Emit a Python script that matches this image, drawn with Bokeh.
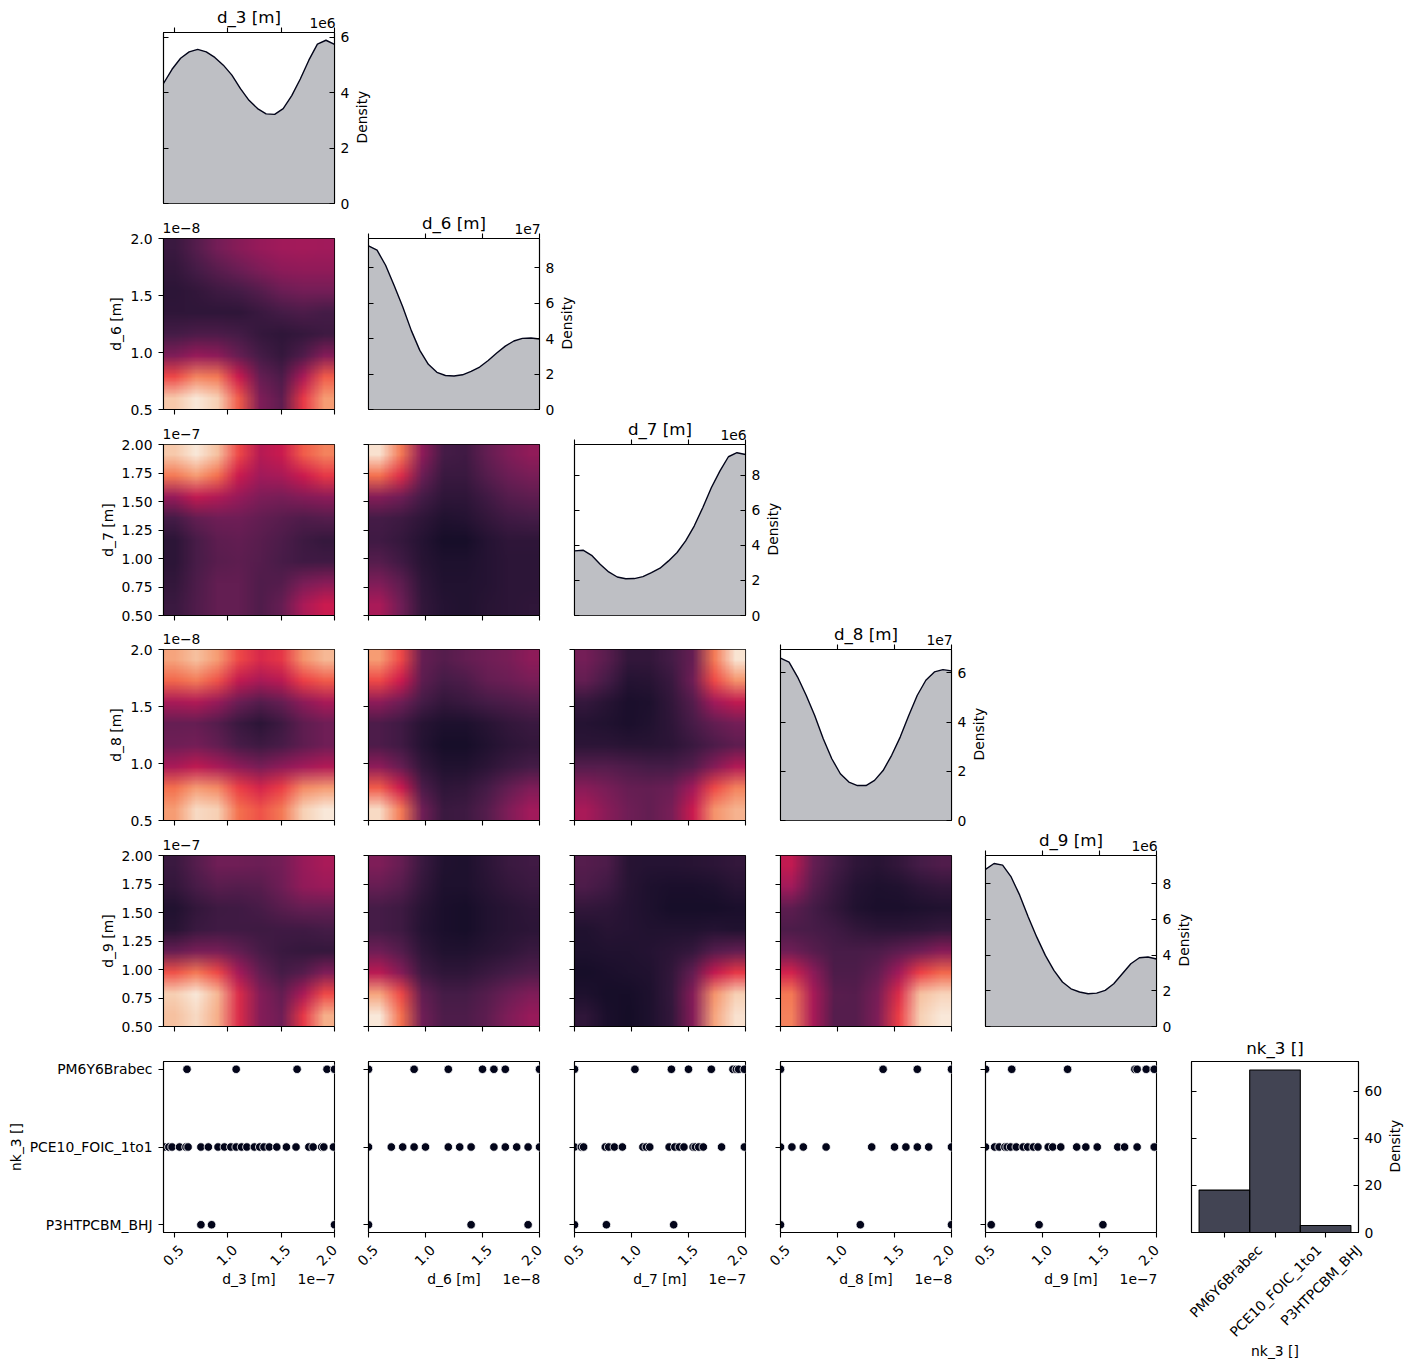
from math import pi

import numpy as np
from bokeh.embed import file_html
from bokeh.layouts import column, row
from bokeh.models import CustomJS, FixedTicker, LinearAxis, LinearColorMapper, PrintfTickFormatter, Range1d
from bokeh.plotting import figure
from bokeh.resources import INLINE

names = ["d_3 [m]", "d_6 [m]", "d_7 [m]", "d_8 [m]", "d_9 [m]"]
powers = ["1e\u22127", "1e\u22128", "1e\u22127", "1e\u22128", "1e\u22127"]
density_powers = ["1e6", "1e7", "1e6", "1e7", "1e6"]
categories = ["P3HTPCBM_BHJ", "PCE10_FOIC_1to1", "PM6Y6Brabec"]
hist_order = ["PM6Y6Brabec", "PCE10_FOIC_1to1", "P3HTPCBM_BHJ"]
hist_density = [18, 69, 3]

# density curves, read every 5% of the axis width
curve_pos = [0, .05, .1, .15, .2, .25, .3, .35, .4, .45, .5, .55, .6, .65, .7, .75, .8, .85, .9, .95, 1]
curve_d3 = [4.34, 4.85, 5.25, 5.48, 5.57, 5.48, 5.28, 5.0, 4.64, 4.15, 3.73, 3.43, 3.24, 3.22, 3.43, 3.9, 4.5, 5.18, 5.76, 5.9, 5.75]
curve_d6 = [9.25, 9.0, 8.15, 7.0, 5.8, 4.47, 3.34, 2.55, 2.1, 1.92, 1.89, 1.96, 2.15, 2.4, 2.77, 3.19, 3.58, 3.87, 4.02, 4.04, 3.98]
curve_d7 = [3.69, 3.73, 3.44, 2.93, 2.49, 2.2, 2.1, 2.11, 2.22, 2.45, 2.7, 3.12, 3.6, 4.26, 5.11, 6.16, 7.3, 8.25, 9.07, 9.3, 9.2]
curve_d8 = [6.6, 6.44, 5.83, 5.09, 4.27, 3.32, 2.51, 1.9, 1.56, 1.42, 1.42, 1.63, 2.03, 2.65, 3.39, 4.27, 5.09, 5.7, 6.04, 6.13, 6.08]
curve_d9 = [8.79, 9.12, 9.03, 8.37, 7.35, 6.13, 5.0, 3.98, 3.14, 2.49, 2.11, 1.93, 1.83, 1.87, 2.02, 2.39, 2.95, 3.51, 3.85, 3.89, 3.78]
curves = [curve_d3, curve_d6, curve_d7, curve_d8, curve_d9]
density_top = [6.18, 9.66, 9.77, 6.95, 9.57]
density_ticks = [[0, 2, 4, 6], [0, 2, 4, 6, 8], [0, 2, 4, 6, 8], [0, 2, 4, 6], [0, 2, 4, 6, 8]]

# sample positions in the bottom row, one list per category
d3_pm6 = [.62, 1.08, 1.65, 1.93, 2.0]
d3_pce = [.405, .45, .48, .55, .61, .63, .75, .82, .91, .97, 1.03, 1.08, 1.13, 1.18, 1.25, 1.30, 1.34, 1.39, 1.46, 1.55, 1.64, 1.76, 1.80, 1.88, 1.90, 1.99]
d3_p3h = [.75, .85, 2.0]
d6_pm6 = [.5, .9, 1.2, 1.5, 1.6, 1.7, 2.0]
d6_pce = [.5, .7, .8, .9, 1.0, 1.2, 1.3, 1.4, 1.6, 1.7, 1.8, 1.9, 2.0]
d6_p3h = [.5, 1.4, 1.9]
d7_pm6 = [.5, 1.03, 1.35, 1.5, 1.7, 1.89, 1.92, 1.94, 1.99]
d7_pce = [.5, .56, .58, .77, .8, .85, .92, 1.1, 1.13, 1.16, 1.33, 1.38, 1.42, 1.46, 1.54, 1.56, 1.59, 1.63, 1.79, 1.99]
d7_p3h = [.5, .78, 1.37]
d8_pm6 = [.5, 1.4, 1.7, 2.0]
d8_pce = [.5, .6, .7, .9, 1.3, 1.5, 1.6, 1.7, 1.8, 2.0]
d8_p3h = [.5, 1.2, 2.0]
d9_pm6 = [.5, .73, 1.22, 1.81, 1.83, 1.91, 1.98]
d9_pce = [.5, .58, .62, .67, .69, .72, .77, .83, .87, .92, .96, 1.05, 1.09, 1.16, 1.3, 1.38, 1.48, 1.66, 1.72, 1.83, 1.98]
d9_p3h = [.55, .97, 1.53]
samples = [
    [d3_p3h, d3_pce, d3_pm6],
    [d6_p3h, d6_pce, d6_pm6],
    [d7_p3h, d7_pce, d7_pm6],
    [d8_p3h, d8_pce, d8_pm6],
    [d9_p3h, d9_pce, d9_pm6],
]

# 2d density, top row first, left to right
kde_d6_d3 = [
    [.17, .24, .31, .35, .38, .40, .41, .40],
    [.15, .20, .25, .29, .33, .36, .37, .37],
    [.13, .15, .18, .20, .24, .29, .31, .31],
    [.14, .14, .14, .14, .17, .20, .22, .20],
    [.20, .22, .22, .20, .16, .14, .16, .18],
    [.33, .38, .36, .28, .20, .16, .23, .34],
    [.62, .75, .72, .50, .28, .22, .42, .66],
    [.90, .99, .92, .66, .33, .26, .58, .80],
]
kde_d7_d3 = [
    [.90, .99, .88, .62, .45, .50, .66, .74],
    [.72, .80, .70, .50, .40, .42, .50, .58],
    [.38, .48, .44, .38, .33, .32, .34, .36],
    [.20, .27, .30, .30, .27, .25, .23, .24],
    [.13, .21, .26, .27, .25, .22, .18, .16],
    [.13, .21, .25, .26, .24, .21, .19, .19],
    [.15, .22, .27, .27, .23, .24, .32, .35],
    [.17, .23, .27, .27, .23, .28, .42, .50],
]
kde_d8_d3 = [
    [.82, .88, .80, .62, .54, .58, .78, .86],
    [.68, .73, .64, .48, .42, .46, .60, .66],
    [.42, .44, .38, .29, .24, .28, .36, .42],
    [.28, .28, .24, .17, .13, .18, .26, .30],
    [.30, .31, .27, .21, .18, .21, .26, .30],
    [.42, .47, .42, .36, .32, .36, .40, .44],
    [.70, .80, .76, .60, .53, .60, .76, .80],
    [.80, .95, .92, .70, .64, .72, .92, .99],
]
kde_d9_d3 = [
    [.17, .24, .30, .30, .29, .31, .38, .42],
    [.15, .21, .25, .24, .25, .30, .37, .39],
    [.10, .15, .18, .19, .21, .25, .28, .28],
    [.12, .17, .19, .19, .18, .19, .19, .20],
    [.28, .32, .32, .27, .21, .17, .16, .16],
    [.64, .72, .62, .41, .27, .20, .24, .33],
    [.92, .99, .86, .55, .34, .27, .42, .62],
    [.88, .95, .84, .55, .34, .30, .58, .84],
]
kde_d7_d6 = [
    [.97, .72, .36, .20, .19, .27, .33, .37],
    [.70, .55, .29, .17, .17, .24, .29, .32],
    [.34, .30, .20, .14, .14, .19, .24, .26],
    [.20, .18, .14, .10, .11, .15, .19, .20],
    [.19, .16, .11, .07, .07, .11, .14, .14],
    [.24, .19, .12, .09, .09, .11, .13, .13],
    [.33, .26, .14, .10, .10, .11, .13, .13],
    [.42, .30, .15, .11, .10, .12, .13, .14],
]
kde_d8_d6 = [
    [.80, .62, .28, .24, .27, .30, .32, .36],
    [.62, .50, .26, .20, .22, .27, .29, .32],
    [.36, .30, .20, .15, .17, .20, .22, .24],
    [.22, .19, .12, .09, .09, .12, .15, .17],
    [.22, .19, .11, .07, .07, .10, .13, .15],
    [.36, .28, .15, .10, .10, .13, .17, .20],
    [.66, .50, .22, .14, .15, .20, .27, .33],
    [.95, .72, .30, .17, .18, .24, .33, .40],
]
kde_d9_d6 = [
    [.33, .28, .17, .10, .09, .13, .17, .19],
    [.28, .24, .15, .09, .09, .12, .15, .17],
    [.20, .18, .12, .08, .07, .10, .12, .14],
    [.20, .18, .11, .08, .07, .10, .12, .13],
    [.30, .24, .14, .10, .10, .12, .14, .17],
    [.46, .34, .18, .14, .14, .17, .20, .23],
    [.82, .62, .27, .20, .20, .24, .29, .33],
    [.99, .70, .30, .22, .22, .26, .33, .38],
]
kde_d8_d7 = [
    [.31, .25, .15, .15, .20, .28, .72, .98],
    [.27, .20, .11, .12, .17, .30, .62, .78],
    [.16, .12, .08, .09, .15, .24, .40, .48],
    [.11, .10, .08, .10, .14, .21, .27, .31],
    [.13, .13, .12, .12, .13, .17, .22, .26],
    [.24, .24, .22, .20, .20, .24, .34, .44],
    [.35, .32, .28, .27, .29, .40, .62, .74],
    [.42, .35, .30, .27, .32, .50, .78, .85],
]
kde_d9_d7 = [
    [.24, .22, .12, .11, .11, .12, .13, .15],
    [.22, .19, .12, .09, .08, .08, .09, .12],
    [.15, .14, .11, .09, .07, .07, .07, .08],
    [.10, .12, .11, .10, .10, .10, .11, .10],
    [.09, .10, .10, .11, .13, .16, .24, .27],
    [.07, .08, .09, .10, .15, .27, .48, .58],
    [.09, .07, .07, .09, .16, .34, .78, .92],
    [.14, .08, .06, .09, .15, .34, .82, .97],
]
kde_d9_d8 = [
    [.48, .28, .20, .14, .12, .15, .20, .23],
    [.40, .25, .17, .11, .09, .10, .13, .15],
    [.26, .20, .15, .10, .08, .08, .09, .10],
    [.22, .21, .19, .15, .13, .13, .14, .16],
    [.30, .25, .21, .21, .22, .26, .30, .35],
    [.52, .36, .22, .22, .27, .40, .60, .68],
    [.72, .42, .25, .24, .32, .55, .88, .93],
    [.74, .42, .24, .24, .33, .60, .92, .99],
]
kdes = {
    (1, 0): kde_d6_d3, (2, 0): kde_d7_d3, (3, 0): kde_d8_d3, (4, 0): kde_d9_d3,
    (2, 1): kde_d7_d6, (3, 1): kde_d8_d6, (4, 1): kde_d9_d6,
    (3, 2): kde_d8_d7, (4, 2): kde_d9_d7,
    (4, 3): kde_d9_d8,
}

x_ticks = [.5, 1.0, 1.5, 2.0]
y_ticks_wide = [.5, 1.0, 1.5, 2.0]
y_ticks_fine = [.5, .75, 1.0, 1.25, 1.5, 1.75, 2.0]

FONT = "DejaVu Sans"
TICK_SIZE = "13.9px"
TITLE_SIZE = "16.7px"
INK = "#03051a"

# rocket colormap
anchors = ["#03051a", "#221331", "#451c47", "#701f57", "#a11a5b", "#cb1b4f", "#ed3f46", "#f4704e", "#f69c73", "#f7c9aa", "#faebdd"]
rgb = np.array([[int(c[i:i + 2], 16) for i in (1, 3, 5)] for c in anchors])
rocket = ["#%02x%02x%02x" % tuple(int(np.interp(t, np.linspace(0, 1, 11), rgb[:, k])) for k in range(3))
          for t in np.linspace(0, 1, 256)]
mapper = LinearColorMapper(palette=rocket, low=0, high=1)

# bokeh switches image smoothing off, the reference heatmaps are smooth so let the browser scale them
smooth = CustomJS(args=dict(mapper=mapper), code="""
if (!window.__smooth) {
  window.__smooth = true
  Object.defineProperty(CanvasRenderingContext2D.prototype, 'imageSmoothingEnabled', {get() {return true}, set(v) {}})
  setTimeout(() => { mapper.low = 0.0001 }, 150)
}
""")

row_pitch = [208, 206, 205, 206, 206]
col_pitch = [205, 206, 206, 205, 206]
FRAME = 171
LEFT = 22
TOP = 30
BOTTOM = 130
OVERLAP = 4  # rows overlap a little so the bottom tick labels are not cut by the canvas


def style_axis(ax, ticks, labels=True, out=5, inward=0):
    ax.ticker = FixedTicker(ticks=ticks)
    ax.minor_tick_line_color = None
    ax.major_tick_out = out
    ax.major_tick_in = inward
    ax.major_tick_line_color = "black"
    ax.major_tick_line_width = 1.1
    ax.axis_line_color = "black"
    ax.axis_line_width = 1.1
    ax.major_label_standoff = 6 if labels else 0
    ax.major_label_text_font = FONT
    ax.major_label_text_font_size = TICK_SIZE
    ax.major_label_text_color = "black"
    ax.axis_label_text_font = FONT
    ax.axis_label_text_font_size = TICK_SIZE
    ax.axis_label_text_font_style = "normal"
    ax.axis_label_text_color = "black"
    if not labels:
        ax.major_label_overrides = {t: "" for t in ticks}


def text_axis(place_ticks, overrides, label=None, size=TICK_SIZE, standoff=0, label_standoff=0):
    # an axis with no line or ticks, used only to place text outside the frame
    ax = LinearAxis()
    style_axis(ax, place_ticks)
    ax.axis_line_color = None
    ax.major_tick_line_color = None
    ax.major_tick_out = 0
    ax.major_label_standoff = label_standoff
    ax.major_label_overrides = overrides
    if label:
        ax.axis_label = label
        ax.axis_label_text_font_size = size
        ax.axis_label_standoff = standoff
    return ax


def density_label(p, top, standoff):
    # rotated text starts at its tick, so put the tick half the word's length below the middle
    mark = round(top / 2 - 25.5 / FRAME * top, 4)
    ax = text_axis([mark], {mark: "Density"}, label_standoff=standoff)
    ax.major_label_orientation = pi / 2
    p.add_layout(ax, "right")


def panel(width, height, left, right, top, bottom, x_range, y_range, overlap=0, **kw):
    p = figure(width=width, height=height + overlap, x_range=Range1d(*x_range), y_range=Range1d(*y_range),
               toolbar_location=None, output_backend="svg", min_border_left=left, min_border_right=right,
               min_border_top=top, min_border_bottom=bottom + overlap, background_fill_color="white",
               border_fill_color=None, margin=(0, 0, -overlap, 0), **kw)
    p.grid.visible = False
    p.outline_line_color = "black"
    p.outline_line_width = 1.1
    return p


def left_border(j):
    return 163 if j == 0 else LEFT


def x_limits(j):
    return (.4, 2.0) if j == 0 else (.5, 2.0)


def top_border(i):
    return 32 if i == 0 else TOP


def diagonal(i):
    lo, hi = x_limits(i)
    left = left_border(i)
    width = left + FRAME + 60
    top = top_border(i)
    p = panel(width, row_pitch[i], left, 60, top, row_pitch[i] - FRAME - top,
              (lo, hi), (0, density_top[i]), overlap=OVERLAP, x_axis_location="above", y_axis_location="right")
    xs = [lo + t * (hi - lo) for t in curve_pos]
    p.varea(xs, [0] * len(xs), curves[i], fill_color="#bebfc4")
    p.line(xs, curves[i], line_color=INK, line_width=1.4)
    style_axis(p.xaxis[0], x_ticks, labels=False)
    style_axis(p.yaxis[0], density_ticks[i], out=0, inward=5)
    density_label(p, density_top[i], 10)
    inner = LinearAxis()
    style_axis(inner, density_ticks[i], labels=False, out=0, inward=5)
    p.add_layout(inner, "left")
    mark = round(hi - 12 / FRAME * (hi - lo), 4)
    p.add_layout(text_axis([mark], {mark: density_powers[i]}, names[i], TITLE_SIZE, -12), "above")
    return p


def heatmap(i, j):
    lo, hi = x_limits(j)
    left = left_border(j)
    right = col_pitch[j] - FRAME - LEFT
    top = top_border(i)
    p = panel(left + FRAME + right, row_pitch[i], left, right, top, row_pitch[i] - FRAME - top, (lo, hi), (.5, 2.0),
              overlap=OVERLAP)
    grid = np.array(kdes[(i, j)])[::-1]
    p.image(image=[grid], x=lo, y=.5, dw=hi - lo, dh=1.5, color_mapper=mapper)
    p.js_on_change("inner_width", smooth)
    style_axis(p.xaxis[0], x_ticks, labels=False)
    ticks = y_ticks_fine if i in (2, 4) else y_ticks_wide
    style_axis(p.yaxis[0], ticks, labels=j == 0)
    if j == 0:
        p.yaxis[0].formatter = PrintfTickFormatter(format="%.2f" if i in (2, 4) else "%.1f")
        p.yaxis[0].axis_label = names[i]
        p.yaxis[0].axis_label_standoff = 3
        mark = round(lo + 18 / FRAME * (hi - lo), 4)
        p.add_layout(text_axis([mark], {mark: powers[i]}, label_standoff=6), "above")
    return p


def shifted_labels(values, texts, shift, hi):
    # rotated tick labels end at their tick, the reference centres them on it
    moved = [min(round(v + s, 4), hi) for v, s in zip(values, shift)]
    ax = text_axis(moved, dict(zip(moved, texts)), label_standoff=10)
    ax.major_label_orientation = pi / 4
    return ax


def scatter(j):
    lo, hi = x_limits(j)
    left = left_border(j)
    right = col_pitch[j] - FRAME - LEFT
    p = panel(left + FRAME + right, TOP + FRAME + BOTTOM, left, right, TOP, BOTTOM, (lo, hi), (-.1, 2.1))
    for k, xs in enumerate(samples[j]):
        p.scatter(xs, [k] * len(xs), size=8.5, fill_color=INK, line_color="white", line_width=.8)
    style_axis(p.xaxis[0], x_ticks, labels=False)
    shift = [7 / FRAME * (hi - lo)] * len(x_ticks)
    p.add_layout(shifted_labels(x_ticks, ["%.1f" % t for t in x_ticks], shift, hi), "below")
    mark = round(hi - 18 / FRAME * (hi - lo), 4)
    p.add_layout(text_axis([mark], {mark: powers[j]}, names[j], TICK_SIZE, -16), "below")
    style_axis(p.yaxis[0], [0, 1, 2], labels=j == 0)
    if j == 0:
        p.yaxis[0].major_label_overrides = {k: c for k, c in enumerate(categories)}
        p.yaxis[0].axis_label = "nk_3 []"
        p.yaxis[0].axis_label_standoff = 3
    return p


def histogram():
    lo, hi = -.65, 2.65
    p = panel(LEFT + FRAME + 52, TOP + FRAME + BOTTOM, LEFT, 52, TOP, BOTTOM, (lo, hi), (0, 72.6),
              x_axis_location="below", y_axis_location="right")
    p.vbar(x=[0, 1, 2], top=hist_density, width=1, bottom=0, fill_color=INK, fill_alpha=.75,
           line_color="black", line_width=1.1)
    style_axis(p.xaxis[0], [0, 1, 2], labels=False)
    shift = [px / FRAME * (hi - lo) for px in (36, 45, 40)]
    ax = shifted_labels([0, 1, 2], hist_order, shift, hi)
    ax.axis_label = "nk_3 []"
    ax.axis_label_standoff = -6
    p.add_layout(ax, "below")
    style_axis(p.yaxis[0], [0, 20, 40, 60], out=0, inward=5)
    density_label(p, 72.6, 10)
    inner = LinearAxis()
    style_axis(inner, [0, 20, 40, 60], labels=False, out=0, inward=5)
    p.add_layout(inner, "left")
    p.add_layout(text_axis([1.0], {1.0: ""}, "nk_3 []", TITLE_SIZE, 4), "above")
    return p


rows = []
for i in range(5):
    rows.append(row([heatmap(i, j) for j in range(i)] + [diagonal(i)]))
rows.append(row([scatter(j) for j in range(5)] + [histogram()]))

p = column(rows)
open("out.html", "w").write(file_html(p, INLINE))
